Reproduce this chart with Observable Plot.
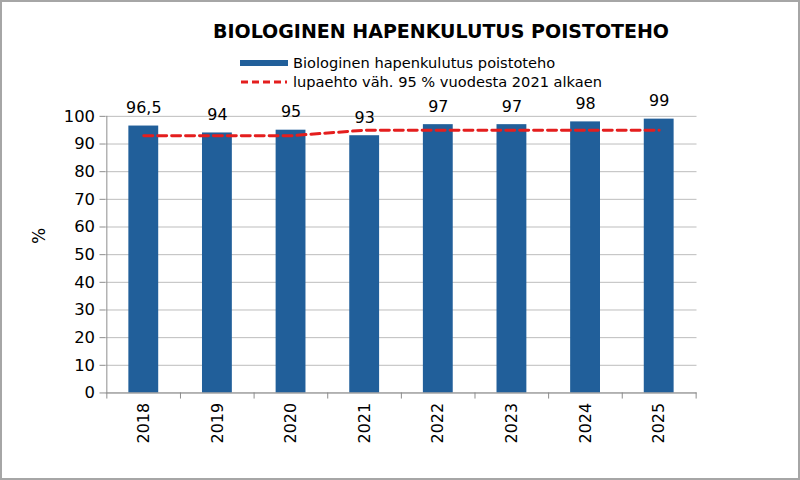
<!DOCTYPE html>
<html>
<head>
<meta charset="utf-8">
<script src="https://cdn.jsdelivr.net/npm/d3@7"></script>
<script src="https://cdn.jsdelivr.net/npm/@observablehq/plot@0.6"></script>
<style>
  html, body { margin: 0; padding: 0; background: #fff; }
  #frame { position: relative; width: 800px; height: 480px; box-sizing: border-box; border: 2px solid #a6a6a6; overflow: hidden; font-family: "DejaVu Sans", sans-serif; }
  #title { position: absolute; left: 0; width: 878px; top: 18px; text-align: center; font-weight: bold; font-size: 19px; color: #000; }
  #legend { position: absolute; left: 238px; top: 51px; font-size: 14.6px; color: #000; }
  .lg { display: flex; align-items: center; height: 19px; }
  .sw { width: 48px; height: 19px; margin-right: 5px; position: relative; }
  #chart { position: absolute; left: -2px; top: 86px; }
  #ylab { position: absolute; left: 29px; top: 224px; font-size: 17px; transform: rotate(-90deg); transform-origin: center; }
</style>
</head>
<body>
<div id="frame">
  <div id="title">BIOLOGINEN HAPENKULUTUS POISTOTEHO</div>
  <div id="legend">
    <div class="lg"><div class="sw"><div style="position:absolute;left:0;top:7px;width:48px;height:6px;background:#215f9a"></div></div><span>Biologinen hapenkulutus poistoteho</span></div>
    <div class="lg"><div class="sw"><svg width="48" height="19" style="position:absolute;left:0;top:0"><line x1="1" y1="10" x2="47" y2="10" stroke="#e41e1e" stroke-width="3" stroke-dasharray="7,4"/></svg></div><span>lupaehto väh. 95 % vuodesta 2021 alkaen</span></div>
  </div>
  <div id="chart"></div>
  <div id="ylab">%</div>
</div>
<script>
const years = ["2018","2019","2020","2021","2022","2023","2024","2025"];
const values = [96.5, 94, 95, 93, 97, 97, 98, 99];
const valueLabels = ["96,5","94","95","93","97","97","98","99"];
const permit = [93, 93, 93, 95, 95, 95, 95, 95];
const yTicks = [0,10,20,30,40,50,60,70,80,90,100];

const bars = years.map((y, i) => ({year: y, value: values[i], label: valueLabels[i], permit: permit[i]}));

const W = 802, H = 372;
const mL = 106, mR = 102, mT = 28, mB = 66;
const step = (W - mL - mR) / years.length;

const chart = Plot.plot({
  width: W,
  height: H,
  marginLeft: mL,
  marginRight: mR,
  marginTop: mT,
  marginBottom: mB,
  style: { fontFamily: "DejaVu Sans, sans-serif", fontSize: "16px", color: "#000", background: "transparent" },
  x: { domain: years, paddingInner: 0.6, paddingOuter: 0.3, align: 0.5, axis: null },
  y: { domain: [0, 100], axis: null },
  marks: [
    Plot.gridY(yTicks, { stroke: "#bcbcbc", strokeOpacity: 1, strokeWidth: 1 }),
    Plot.barY(bars, { x: "year", y: "value", fill: "#215f9a" }),
    Plot.line(bars, { x: "year", y: "permit", stroke: "#e41e1e", strokeWidth: 3, strokeDasharray: "9,5", curve: "linear" }),
    Plot.text(bars, { x: "year", y: "value", text: "label", dy: -18, fontSize: 16, fill: "#000" }),
    // y axis
    Plot.ruleX([years[0]], { dx: -step / 2, stroke: "#8c8c8c" }),
    Plot.axisY(yTicks, { tickSize: 6, tickPadding: 5, stroke: "#8c8c8c", fontSize: 16.5, anchor: "left", label: null }),
    // x axis
    Plot.ruleY([0], { stroke: "#8c8c8c" }),
    Plot.ruleX(years, { x: d => d, y1: 0, y2: -2.2, dx: -step / 2, stroke: "#8c8c8c" }),
    Plot.ruleX([years[years.length - 1]], { x: d => d, y1: 0, y2: -2.2, dx: step / 2, stroke: "#8c8c8c" }),
    Plot.text(years, { x: d => d, y: 0, text: d => d, rotate: -90, textAnchor: "end", dy: 10, fontSize: 16, fill: "#000" })
  ]
});
document.getElementById("chart").appendChild(chart);
</script>
</body>
</html>
